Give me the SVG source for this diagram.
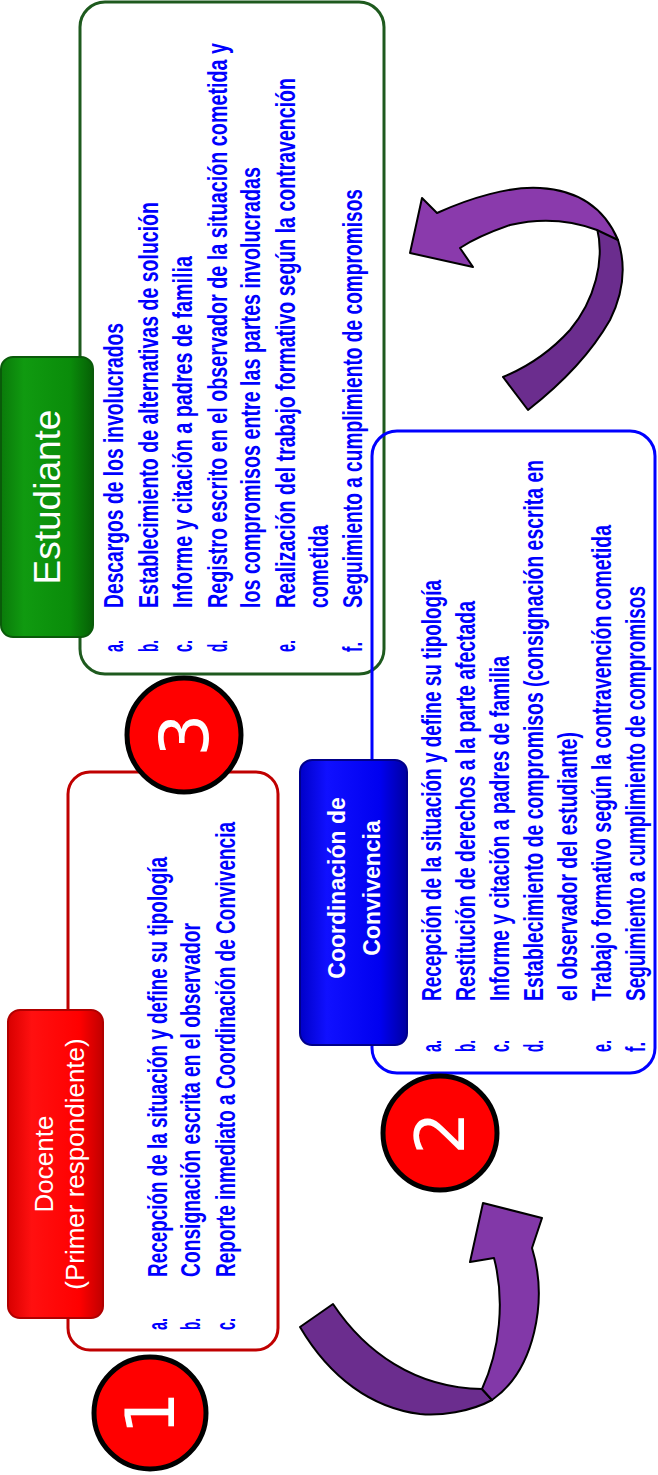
<svg xmlns="http://www.w3.org/2000/svg" width="658" height="1475" viewBox="0 0 658 1475">
<defs>
<style>
.lst{font-family:"Liberation Sans",Arial,sans-serif;font-weight:bold;font-size:19px;fill:#0000ff}
.hd{font-family:"Liberation Sans",Arial,sans-serif;fill:#ffffff;text-anchor:middle}
.box{fill:none;stroke-width:3}
.num{font-family:"DejaVu Sans","Liberation Sans",sans-serif;font-size:68px;fill:#ffffff;text-anchor:middle;dominant-baseline:central}
.circ{fill:#ff0000;stroke:#000000;stroke-width:5}
.arrow{stroke:#000000;stroke-width:2;stroke-linejoin:round}
</style>
<linearGradient id="gR" x1="0" y1="0" x2="0" y2="1"><stop offset="0" stop-color="#d80000"/><stop offset="0.25" stop-color="#ff1010"/><stop offset="0.75" stop-color="#ff0000"/><stop offset="1" stop-color="#c00000"/></linearGradient>
<linearGradient id="gG" x1="0" y1="0" x2="0" y2="1"><stop offset="0" stop-color="#0a7a0a"/><stop offset="0.25" stop-color="#109a10"/><stop offset="0.75" stop-color="#0a8c0a"/><stop offset="1" stop-color="#066006"/></linearGradient>
<linearGradient id="gB" x1="0" y1="0" x2="0" y2="1"><stop offset="0" stop-color="#0000c8"/><stop offset="0.25" stop-color="#1010ff"/><stop offset="0.75" stop-color="#0000f0"/><stop offset="1" stop-color="#0000a0"/></linearGradient>
</defs>
<rect x="0" y="0" width="658" height="1475" fill="#ffffff"/>

<g id="connectors">
  <path class="arrow" fill="#6b2d8e" d="M300,1327 L333,1304 C365,1352 415,1388 482,1389 L492,1400 C470,1412 440,1416 420,1414 C372,1408 330,1378 300,1327 Z"/>
  <path class="arrow" fill="#8238a8" d="M482,1389 C500,1350 505,1300 494,1258 L470,1262 L483,1203 L542,1218 L532,1248 C548,1300 535,1370 492,1400 Z"/>
  <path class="arrow" fill="#6b2d8e" d="M597,228 C605,260 595,300 570,330 C550,352 525,368 503,377 L528,410 C560,385 590,355 610,320 C625,290 625,262 618,240 Z"/>
  <path class="arrow" fill="#8a3aac" d="M460,248 L473,267 L410,253 L422,198 L437,213 C470,198 510,186 540,188 C575,190 603,205 618,240 L597,230 C570,220 540,218 510,225 C490,232 472,240 460,248 Z"/>
</g>

<g transform="translate(0,1475) rotate(-90)">
  <g id="estudiante">
    <rect class="box" x="801" y="80" width="672" height="304" rx="25" stroke="#1e5a1e"/>
    <rect x="838" y="1" width="280" height="92" rx="12" fill="url(#gG)" stroke="#0a5a0a" stroke-width="2"/>
    <text class="hd" x="978" y="60" font-size="37">Estudiante</text>
    <g transform="scale(1,1.45)">
      <text class="lst" x="823" y="84.83" textLength="12" lengthAdjust="spacingAndGlyphs">a.</text>
      <text class="lst" x="823" y="108.97" textLength="12" lengthAdjust="spacingAndGlyphs">b.</text>
      <text class="lst" x="823" y="132.41" textLength="12" lengthAdjust="spacingAndGlyphs">c.</text>
      <text class="lst" x="823" y="156.55" textLength="12" lengthAdjust="spacingAndGlyphs">d.</text>
      <text class="lst" x="823" y="203.45" textLength="12" lengthAdjust="spacingAndGlyphs">e.</text>
      <text class="lst" x="823" y="249.66" textLength="10" lengthAdjust="spacingAndGlyphs">f.</text>
      <text class="lst" x="867" y="84.83" textLength="285" lengthAdjust="spacingAndGlyphs">Descargos  de los involucrados</text>
      <text class="lst" x="867" y="108.97" textLength="406" lengthAdjust="spacingAndGlyphs">Establecimiento  de alternativas  de solución</text>
      <text class="lst" x="867" y="132.41" textLength="352" lengthAdjust="spacingAndGlyphs">Informe  y citación  a padres  de familia</text>
      <text class="lst" x="867" y="156.55" textLength="565" lengthAdjust="spacingAndGlyphs">Registro escrito en el observador  de la situación  cometida  y</text>
      <text class="lst" x="867" y="179.31" textLength="441" lengthAdjust="spacingAndGlyphs">los compromisos  entre  las partes  involucradas</text>
      <text class="lst" x="867" y="203.45" textLength="530" lengthAdjust="spacingAndGlyphs">Realización  del trabajo  formativo  según la contravención</text>
      <text class="lst" x="867" y="226.21" textLength="83" lengthAdjust="spacingAndGlyphs">cometida</text>
      <text class="lst" x="867" y="249.66" textLength="419" lengthAdjust="spacingAndGlyphs">Seguimiento  a cumplimiento  de compromisos</text>
    </g>
  </g>

  <g id="coordinacion">
    <rect class="box" x="402" y="372" width="642" height="283" rx="25" stroke="#0000ff"/>
    <rect x="430" y="300" width="285" height="107" rx="12" fill="url(#gB)" stroke="#00008a" stroke-width="2"/>
    <text class="hd" x="587" y="345" font-size="23" font-weight="bold">Coordinación de</text>
    <text class="hd" x="587" y="380" font-size="23" font-weight="bold">Convivencia</text>
    <g transform="scale(1,1.45)">
      <text class="lst" x="423" y="304.14" textLength="12" lengthAdjust="spacingAndGlyphs">a.</text>
      <text class="lst" x="423" y="327.59" textLength="12" lengthAdjust="spacingAndGlyphs">b.</text>
      <text class="lst" x="423" y="351.03" textLength="12" lengthAdjust="spacingAndGlyphs">c.</text>
      <text class="lst" x="423" y="374.48" textLength="12" lengthAdjust="spacingAndGlyphs">d.</text>
      <text class="lst" x="423" y="421.38" textLength="12" lengthAdjust="spacingAndGlyphs">e.</text>
      <text class="lst" x="423" y="444.83" textLength="10" lengthAdjust="spacingAndGlyphs">f.</text>
      <text class="lst" x="474" y="304.14" textLength="421" lengthAdjust="spacingAndGlyphs">Recepción  de la situación  y define  su tipología</text>
      <text class="lst" x="474" y="327.59" textLength="400" lengthAdjust="spacingAndGlyphs">Restitución  de derechos  a la parte  afectada</text>
      <text class="lst" x="474" y="351.03" textLength="345" lengthAdjust="spacingAndGlyphs">Informe  y citación  a padres  de familia</text>
      <text class="lst" x="474" y="374.48" textLength="541" lengthAdjust="spacingAndGlyphs">Establecimiento  de compromisos  (consignación  escrita  en</text>
      <text class="lst" x="474" y="397.93" textLength="269" lengthAdjust="spacingAndGlyphs">el observador  del estudiante)</text>
      <text class="lst" x="474" y="421.38" textLength="476" lengthAdjust="spacingAndGlyphs">Trabajo formativo  según la contravención  cometida</text>
      <text class="lst" x="474" y="444.83" textLength="415" lengthAdjust="spacingAndGlyphs">Seguimiento  a cumplimiento  de compromisos</text>
    </g>
  </g>

  <g id="docente">
    <rect class="box" x="125" y="68" width="578" height="210" rx="22" stroke="#c00000"/>
    <rect x="157" y="8" width="308" height="95" rx="12" fill="url(#gR)" stroke="#b00000" stroke-width="2"/>
    <text class="hd" x="311" y="53" font-size="26">Docente</text>
    <text class="hd" x="311" y="84" font-size="26">(Primer respondiente)</text>
    <g transform="scale(1,1.45)">
      <text class="lst" x="145" y="115.17" textLength="12" lengthAdjust="spacingAndGlyphs">a.</text>
      <text class="lst" x="145" y="137.93" textLength="12" lengthAdjust="spacingAndGlyphs">b.</text>
      <text class="lst" x="145" y="162.07" textLength="12" lengthAdjust="spacingAndGlyphs">c.</text>
      <text class="lst" x="198" y="115.17" textLength="420" lengthAdjust="spacingAndGlyphs">Recepción  de la situación  y define  su tipología</text>
      <text class="lst" x="198" y="137.93" textLength="354" lengthAdjust="spacingAndGlyphs">Consignación  escrita  en el observador</text>
      <text class="lst" x="198" y="162.07" textLength="455" lengthAdjust="spacingAndGlyphs">Reporte  inmediato  a Coordinación  de Convivencia</text>
    </g>
  </g>

  <g id="step1">
    <circle class="circ" cx="62" cy="150" r="56"/>
    <text class="num" x="62" y="150">1</text>
  </g>
  <g id="step2">
    <circle class="circ" cx="342" cy="440" r="57"/>
    <text class="num" x="342" y="440">2</text>
  </g>
  <g id="step3">
    <circle class="circ" cx="740" cy="184" r="57"/>
    <text class="num" x="740" y="184">3</text>
  </g>
</g>
</svg>
